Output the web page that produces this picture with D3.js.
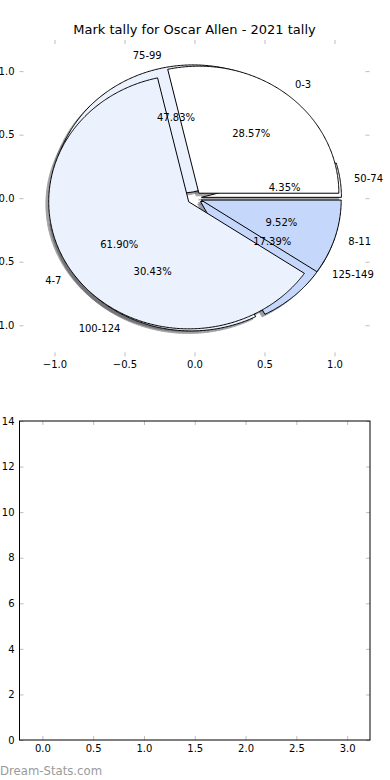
<!DOCTYPE html>
<html>
<head>
<meta charset="utf-8">
<script src="https://cdn.jsdelivr.net/npm/d3@7"></script>
<style>
   body { margin: 0; background: #fff; }
   svg { display: block; font-family: 'DejaVu Sans', sans-serif; }
</style>
</head>
<body>
<svg id="chart" width="390" height="780"></svg>
<script>
const chartTitle = 'Mark tally for Oscar Allen - 2021 tally';

// first pie (drawn on top)
const markLabels = ['0-3', '4-7', '8-11'];
const markCounts = [6, 13, 2];
const markColors = ['#ffffff', '#ebf1fd', '#c5d8fb'];

// second pie (drawn underneath)
const tallyLabels = ['50-74', '75-99', '100-124', '125-149'];
const tallyCounts = [1, 11, 7, 4];
const tallyColors = ['#ffffff', '#ebf1fd', '#ebf1fd', '#c5d8fb'];

const pieTicks = [-1, -0.5, 0, 0.5, 1];

// lower panel is empty
const lowerCategories = [];
const lowerValues = [];
const lowerXTicks = [0, 0.5, 1, 1.5, 2, 2.5, 3];
const lowerYTicks = [0, 2, 4, 6, 8, 10, 12, 14];

const explode = 0.05;
const labelDistance = 1.1;
const pctDistance = 0.6;
const tickGray = '#bdbdbd';

const svg = d3.select('#chart');

// top axes: pie panel, no frame
const pieX = d3.scaleLinear().domain([-1.25, 1.25]).range([19.5, 369.5]);
const pieY = d3.scaleLinear().domain([-1.245, 1.245]).range([356.4, 40]);

// bottom axes
const lowX = d3.scaleLinear().domain([-0.225, 3.225]).range([19.5, 370]);
const lowY = d3.scaleLinear().domain([0, 14]).range([740, 421]);

function drawAxes(xScale, yScale, xTicks, yTicks, fmtX, fmtY) {
   const [x0, x1] = xScale.range();
   const [y0, y1] = yScale.range();
   const g = svg.append('g');

   const sides = [
      { axis: d3.axisBottom(xScale).tickValues(xTicks).tickFormat(fmtX), t: `translate(0,${y0})` },
      { axis: d3.axisTop(xScale).tickValues(xTicks).tickFormat(''), t: `translate(0,${y1})` },
      { axis: d3.axisLeft(yScale).tickValues(yTicks).tickFormat(fmtY), t: `translate(${x0},0)` },
      { axis: d3.axisRight(yScale).tickValues(yTicks).tickFormat(''), t: `translate(${x1},0)` },
   ];
   sides.forEach((s) => {
      const ag = g
         .append('g')
         .attr('transform', s.t)
         .call(s.axis.tickSizeInner(-4).tickSizeOuter(0).tickPadding(5));
      ag.select('.domain').remove();
      ag.selectAll('.tick line').attr('stroke', tickGray);
      ag.selectAll('.tick text')
         .attr('fill', '#000')
         .attr('font-size', 10)
         .attr('font-family', "'DejaVu Sans', sans-serif");
   });
   return g;
}

function buildWedges(labels, counts, colors) {
   const total = d3.sum(counts);
   return d3
      .pie()
      .sort(null)(counts)
      .map((a, i) => {
         const mid = (a.startAngle + a.endAngle) / 2;
         return {
            label: labels[i],
            color: colors[i],
            a0: a.startAngle,
            a1: a.endAngle,
            mid: mid,
            cx: explode * Math.cos(mid),
            cy: explode * Math.sin(mid),
            pct: ((100 * a.value) / total).toFixed(2) + '%',
         };
      });
}

function wedgePoints(w, dx, dy) {
   const n = Math.max(2, Math.ceil((w.a1 - w.a0) / 0.01));
   const pts = [[w.cx + dx, w.cy + dy]];
   for (let k = 0; k <= n; k++) {
      const t = w.a0 + ((w.a1 - w.a0) * k) / n;
      pts.push([w.cx + dx + Math.cos(t), w.cy + dy + Math.sin(t)]);
   }
   return pts;
}

const wedgeLine = d3
   .line()
   .x((d) => pieX(d[0]))
   .y((d) => pieY(d[1]));

function shadowColor(c) {
   const rgb = d3.rgb(c);
   return d3.rgb(rgb.r * 0.3, rgb.g * 0.3, rgb.b * 0.3).formatHex();
}

drawAxes(pieX, pieY, pieTicks, pieTicks, d3.format('.1f'), d3.format('.1f'));

const tallyWedges = buildWedges(tallyLabels, tallyCounts, tallyColors);
const markWedges = buildWedges(markLabels, markCounts, markColors);
const allWedges = tallyWedges.concat(markWedges);

const pieG = svg.append('g');

// shadows sit under every wedge
pieG
   .selectAll('.shadow')
   .data(allWedges)
   .join('path')
   .attr('class', 'shadow')
   .attr('d', (w) => wedgeLine(wedgePoints(w, -0.02, -0.02)) + 'Z')
   .attr('fill', (w) => shadowColor(w.color))
   .attr('stroke', (w) => shadowColor(w.color))
   .attr('opacity', 0.5);

pieG
   .selectAll('.wedge')
   .data(allWedges)
   .join('path')
   .attr('class', 'wedge')
   .attr('d', (w) => wedgeLine(wedgePoints(w, 0, 0)) + 'Z')
   .attr('fill', (w) => w.color)
   .attr('stroke', '#000')
   .attr('stroke-width', 1)
   .attr('stroke-linejoin', 'miter');

pieG
   .selectAll('.pie-label')
   .data(allWedges)
   .join('text')
   .attr('class', 'pie-label')
   .attr('x', (w) => pieX(w.cx + labelDistance * Math.cos(w.mid)))
   .attr('y', (w) => pieY(w.cy + labelDistance * Math.sin(w.mid)))
   .attr('dy', '0.36em')
   .attr('text-anchor', (w) => (w.cx + labelDistance * Math.cos(w.mid) > 0 ? 'start' : 'end'))
   .attr('font-size', 10)
   .text((w) => w.label);

pieG
   .selectAll('.pie-pct')
   .data(allWedges)
   .join('text')
   .attr('class', 'pie-pct')
   .attr('x', (w) => pieX(w.cx + pctDistance * Math.cos(w.mid)))
   .attr('y', (w) => pieY(w.cy + pctDistance * Math.sin(w.mid)))
   .attr('dy', '0.36em')
   .attr('text-anchor', 'middle')
   .attr('font-size', 10)
   .text((w) => w.pct);

svg.append('text')
   .attr('x', (pieX.range()[0] + pieX.range()[1]) / 2)
   .attr('y', 34)
   .attr('text-anchor', 'middle')
   .attr('font-size', 13)
   .text(chartTitle);

// lower panel
drawAxes(lowX, lowY, lowerXTicks, lowerYTicks, d3.format('.1f'), d3.format('d'));

svg.append('g')
   .selectAll('rect')
   .data(lowerValues)
   .join('rect')
   .attr('x', (d, i) => lowX(i))
   .attr('y', (d) => lowY(d))
   .attr('width', 10)
   .attr('height', (d) => lowY(0) - lowY(d));

svg.append('rect')
   .attr('x', lowX.range()[0])
   .attr('y', lowY.range()[1])
   .attr('width', lowX.range()[1] - lowX.range()[0])
   .attr('height', lowY.range()[0] - lowY.range()[1])
   .attr('fill', 'none')
   .attr('stroke', '#000')
   .attr('stroke-width', 1);

svg.append('text')
   .attr('x', 0)
   .attr('y', 775)
   .attr('font-size', 11.7)
   .attr('fill', '#9a9a9a')
   .text('Dream-Stats.com');
</script>
</body>
</html>
